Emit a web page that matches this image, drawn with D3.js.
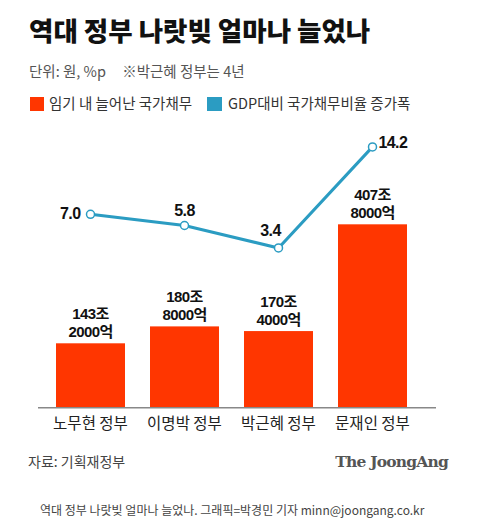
<!DOCTYPE html>
<html><head><meta charset="utf-8">
<script src="https://cdn.jsdelivr.net/npm/d3@7"></script>
<style>
html,body{margin:0;padding:0;background:#fff;}
svg{display:block;font-family:'Noto Sans CJK KR','Noto Sans',sans-serif;}
</style></head>
<body>
<svg id="chart" width="489" height="525"></svg>
<script>
const categories = ["노무현 정부", "이명박 정부", "박근혜 정부", "문재인 정부"];
const debtValues = [143.2, 180.8, 170.4, 407.8];
const debtLine1 = ["143조", "180조", "170조", "407조"];
const debtLine2 = ["2000억", "8000억", "4000억", "8000억"];
const ratioValues = [7.0, 5.8, 3.4, 14.2];
const ratioLabels = ["7.0", "5.8", "3.4", "14.2"];

const RED = "#ff3600", BLUE = "#2b9cc2";
const NUMFONT = "'Liberation Sans','Noto Sans CJK KR',sans-serif";
const svg = d3.select("#chart");

// titles
svg.append("text").attr("x", 29).attr("y", 41).attr("font-size", 26.5).attr("font-weight", 900)
  .attr("fill", "#111").text("역대 정부 나랏빚 얼마나 늘었나");
svg.append("text").attr("x", 29).attr("y", 77).attr("font-size", 14.5).attr("fill", "#555")
  .attr("xml:space", "preserve").text("단위: 원, %p     ※박근혜 정부는 4년");

// legend
svg.append("rect").attr("x", 30).attr("y", 97).attr("width", 14).attr("height", 14).attr("fill", RED);
svg.append("text").attr("x", 49).attr("y", 109).attr("font-size", 14.5).attr("fill", "#333").text("임기 내 늘어난 국가채무");
svg.append("rect").attr("x", 207).attr("y", 97).attr("width", 15).attr("height", 14).attr("fill", BLUE);
svg.append("text").attr("x", 228).attr("y", 109).attr("font-size", 14.5).attr("fill", "#333").text("GDP대비 국가채무비율 증가폭");

// scales
const x = d3.scaleBand().domain(categories).range([56, 407]).paddingInner(0.266).paddingOuter(0);
const baseY = 407.7;
const yBar = d3.scaleLinear().domain([0, 400]).range([baseY, baseY - 400 * 0.4497]);
const yLine = d3.scaleLinear().domain([0, 10]).range([279.8, 279.8 - 93.6]);

// bars
svg.selectAll("rect.bar").data(debtValues).join("rect").attr("class", "bar")
  .attr("x", (d, i) => x(categories[i]))
  .attr("width", x.bandwidth())
  .attr("y", d => yBar(d))
  .attr("height", d => baseY - yBar(d))
  .attr("fill", RED);

// axis baseline
const axis = d3.axisBottom(x).tickSize(0).tickPadding(10);
const gAxis = svg.append("g").attr("transform", `translate(0,${baseY})`).call(axis);
gAxis.select(".domain").attr("d", `M38,0H436`).attr("stroke", "#888").attr("stroke-width", 1.5);
gAxis.selectAll(".tick text").attr("font-size", 15.5).attr("fill", "#222")
  .attr("font-family", "'Noto Sans CJK KR',sans-serif").attr("dy", "0.72em");

// bar labels
const lbl = svg.append("g").attr("font-size", 15).attr("font-weight", 700).attr("fill", "#111")
  .attr("font-family", NUMFONT).attr("text-anchor", "middle").attr("letter-spacing", -0.6);
debtValues.forEach((d, i) => {
  const cx = x(categories[i]) + x.bandwidth() / 2;
  lbl.append("text").attr("x", cx).attr("y", yBar(d) - 24).text(debtLine1[i]);
  lbl.append("text").attr("x", cx).attr("y", yBar(d) - 6).text(debtLine2[i]);
});

// line
const pts = ratioValues.map((v, i) => [x(categories[i]) + x.bandwidth() / 2, yLine(v)]);
svg.append("path").attr("d", d3.line()(pts)).attr("fill", "none").attr("stroke", BLUE).attr("stroke-width", 3);
svg.selectAll("circle.pt").data(pts).join("circle").attr("class", "pt")
  .attr("cx", d => d[0]).attr("cy", d => d[1]).attr("r", 4)
  .attr("fill", "#fff").attr("stroke", BLUE).attr("stroke-width", 1.5);

const lblPos = [
  { dx: -10, dy: 5, anchor: "end" },
  { dx: 0, dy: -10, anchor: "middle" },
  { dx: -8, dy: -12, anchor: "middle" },
  { dx: 6, dy: 1, anchor: "start" }
];
const lineLbl = svg.append("g").attr("font-size", 16).attr("font-weight", 700).attr("fill", "#111")
  .attr("font-family", NUMFONT).attr("letter-spacing", -0.6);
pts.forEach((p, i) => {
  lineLbl.append("text").attr("x", p[0] + lblPos[i].dx).attr("y", p[1] + lblPos[i].dy)
    .attr("text-anchor", lblPos[i].anchor).text(ratioLabels[i]);
});

// source & brand
svg.append("text").attr("x", 28).attr("y", 467).attr("font-size", 14).attr("fill", "#444").text("자료: 기획재정부");
svg.append("text").attr("x", 448).attr("y", 467).attr("text-anchor", "end").attr("font-size", 15.5)
  .attr("font-weight", 700).attr("font-family", "'DejaVu Serif','Liberation Serif',serif").attr("fill", "#555")
  .attr("letter-spacing", -0.8).text("The JoongAng");
svg.append("text").attr("x", 40).attr("y", 515).attr("font-size", 12).attr("fill", "#444")
  .text("역대 정부 나랏빚 얼마나 늘었나. 그래픽=박경민 기자 minn@joongang.co.kr");
</script>
</body></html>
